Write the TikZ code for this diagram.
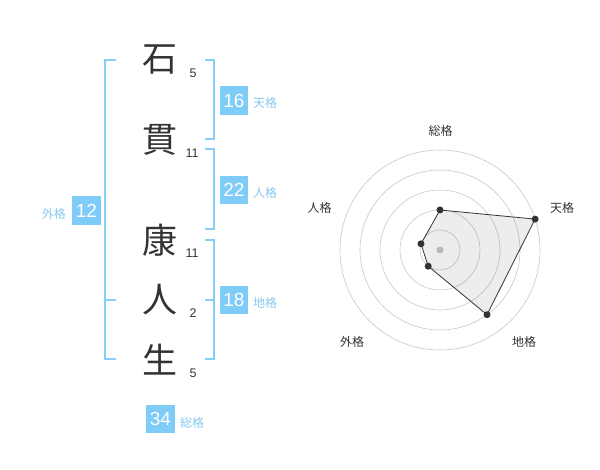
\documentclass[tikz,border=0pt]{standalone}
\usepackage{fontspec}
\setmainfont{Liberation Sans}
\newfontfamily\jp{Noto Sans CJK JP}
\definecolor{boxblue}{HTML}{7FCCF8}
\definecolor{brblue}{HTML}{88CFF6}
\definecolor{lblblue}{HTML}{86C9EE}
\definecolor{ink}{HTML}{333333}
\tikzset{
  kanji/.style={font=\jp\fontsize{35}{35}\selectfont, text=ink, inner sep=0pt},
  strokes/.style={font=\fontsize{12.5}{12.5}\selectfont, text=ink, inner sep=0pt},
  valbox/.style={fill=boxblue, text=white, minimum width=28.5pt, minimum height=28.5pt, inner sep=0pt, font=\fontsize{19}{19}\selectfont},
  bluelbl/.style={text=lblblue, font=\jp\fontsize{12}{12}\selectfont, inner sep=0pt},
  bracket/.style={draw=brblue, line width=2pt},
  ring/.style={draw=black!22, line width=0.6pt},
  axlbl/.style={text=ink, font=\jp\fontsize{12}{12}\selectfont, inner sep=0pt},
  dot/.style={circle, fill=ink, minimum size=7pt, inner sep=0pt},
}
\begin{document}
\begin{tikzpicture}[x=1pt,y=-1pt]
\useasboundingbox (0,0) rectangle (600,470);
% characters
\node[kanji] (c1) at (160,60) {石};
\node[kanji] (c2) at (160,140) {貫};
\node[kanji] (c3) at (160,240) {康};
\node[kanji] (c4) at (160,300) {人};
\node[kanji] (c5) at (160,360) {生};
\node[strokes] (s1) at (193,73) {5};
\node[strokes] (s2) at (192,153) {11};
\node[strokes] (s3) at (192,253) {11};
\node[strokes] (s4) at (193,313) {2};
\node[strokes] (s5) at (193,373) {5};
% brackets
\coordinate (o1) at (116,60);
\coordinate (o2) at (116,300);
\coordinate (o3) at (116,359);
\draw[bracket] (o1) -- (105,60) -- (105,359) -- (o3);
\draw[bracket] (o2) -- (105,300);
\coordinate (t1) at (205,60);
\coordinate (t2) at (205,139);
\draw[bracket] (t1) -- (214,60) -- (214,139) -- (t2);
\coordinate (p1) at (205,149);
\coordinate (p2) at (205,229);
\draw[bracket] (p1) -- (214,149) -- (214,229) -- (p2);
\coordinate (g1) at (205,240);
\coordinate (g2) at (205,300);
\coordinate (g3) at (205,359);
\draw[bracket] (g1) -- (214,240) -- (214,359) -- (g3);
\draw[bracket] (g2) -- (214,300);
% value boxes
\node[valbox] (b12) at (86.5,210.5) {12};
\node[bluelbl, anchor=east] (l12) at (66,214) {外格};
\node[valbox] (b16) at (234,100.5) {16};
\node[bluelbl, anchor=west] (l16) at (253,103) {天格};
\node[valbox] (b22) at (234,190) {22};
\node[bluelbl, anchor=west] (l22) at (253,193) {人格};
\node[valbox] (b18) at (234,300) {18};
\node[bluelbl, anchor=west] (l18) at (253,303) {地格};
\node[valbox] (b34) at (160.5,419) {34};
\node[bluelbl, anchor=west] (l34) at (180,422.5) {総格};
% radar
\coordinate (ctr) at (440,250);
\foreach \r in {20,40,60,80,100} \draw[ring] (ctr) circle[radius=\r];
\fill[black!22] (ctr) circle[radius=3.5];
\coordinate (v1) at (440,210);
\coordinate (v2) at (535.1,219.1);
\coordinate (v3) at (487.0,314.7);
\coordinate (v4) at (428.2,266.2);
\coordinate (v5) at (421.0,243.8);
\draw[ink, line width=0.8pt, fill=black, fill opacity=0.07] (v1) -- (v2) -- (v3) -- (v4) -- (v5) -- cycle;
\foreach \v in {v1,v2,v3,v4,v5} \node[dot] at (\v) {};
\node[axlbl] (a1) at (440.5,131) {総格};
\node[axlbl] (a2) at (562,208) {天格};
\node[axlbl] (a3) at (524,342) {地格};
\node[axlbl] (a4) at (352,342) {外格};
\node[axlbl] (a5) at (319.5,208) {人格};
\end{tikzpicture}
\end{document}
